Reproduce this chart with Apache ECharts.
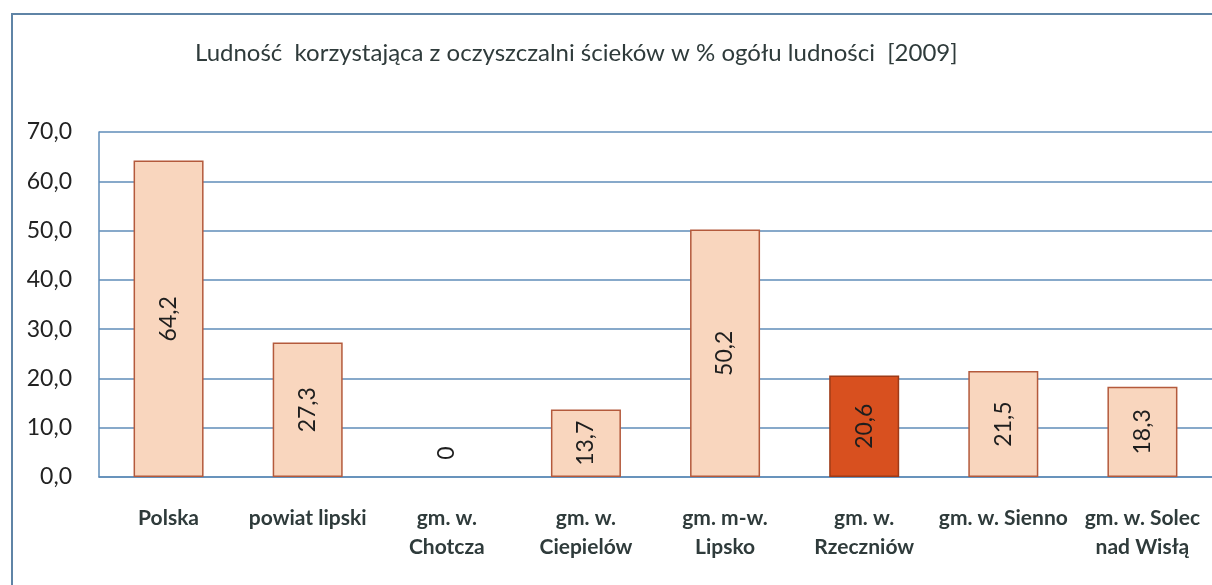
<!DOCTYPE html>
<html>
<head>
<meta charset="utf-8">
<script src="https://cdn.jsdelivr.net/npm/echarts@6/dist/echarts.min.js"></script>
<style>
  html, body { margin: 0; padding: 0; background: #fff; }
  #chart { width: 1212px; height: 585px; }
</style>
</head>
<body>
<div id="chart"></div>
<script>
const categories = [
  'Polska', 'powiat lipski', 'gm. w.\nChotcza', 'gm. w.\nCiepielów',
  'gm. m-w.\nLipsko', 'gm. w.\nRzeczniów', 'gm. w. Sienno', 'gm. w. Solec\nnad Wisłą'
];
const values = [64.2, 27.3, 0, 13.7, 50.2, 20.6, 21.5, 18.3];
const highlightIndex = 5;

const fmt = v => v.toFixed(1).replace('.', ',');
const font = 'Lato, "Open Sans", sans-serif';

const chart = echarts.init(document.getElementById('chart'));

// bars: one highlighted, zero value label lifted off the axis
const barData = values.map((v, i) => {
  const item = { value: v };
  if (i === highlightIndex) {
    item.itemStyle = { color: '#D8501F', borderColor: '#9E3A17' };
  }
  if (v === 0) {
    item.itemStyle = { borderWidth: 0 };
    item.label = { offset: [24, 0] };
  }
  return item;
});

chart.setOption({
  backgroundColor: '#fff',
  title: {
    text: 'Ludność  korzystająca z oczyszczalni ścieków w % ogółu ludności  [2009]',
    left: 190,
    top: 36,
    textStyle: { fontFamily: font, fontSize: 24, fontWeight: 'normal', color: '#2f3b3b' }
  },
  graphic: [{
    type: 'rect',
    shape: { x: 12, y: 14, width: 1300, height: 700 },
    style: { fill: 'none', stroke: '#5f84a6', lineWidth: 2 },
    silent: true
  }],
  grid: { left: 99, top: 132, width: 1124, height: 345 },
  xAxis: {
    type: 'category',
    data: categories,
    axisTick: { show: false },
    axisLine: { lineStyle: { color: '#5f8cb8', width: 1.5 } },
    axisLabel: {
      interval: 0,
      margin: 27,
      fontFamily: font,
      fontSize: 21,
      fontWeight: 'bold',
      color: '#2f3b3b',
      lineHeight: 29
    }
  },
  yAxis: {
    type: 'value',
    min: 0,
    max: 70,
    interval: 10,
    axisLine: { show: true, lineStyle: { color: '#5f8cb8', width: 1.5 } },
    axisTick: { show: false },
    splitLine: { lineStyle: { color: '#5f8cb8', width: 1.5 } },
    axisLabel: {
      margin: 27,
      fontFamily: font,
      fontSize: 23,
      color: '#222',
      formatter: v => fmt(v)
    }
  },
  series: [{
    type: 'bar',
    data: barData,
    barWidth: 70,
    itemStyle: { color: '#F9D6BE', borderColor: '#B45A3C', borderWidth: 1.5 },
    label: {
      show: true,
      position: 'inside',
      rotate: 90,
      fontFamily: font,
      fontSize: 23,
      color: '#1e1e1e',
      formatter: p => p.value === 0 ? '0' : fmt(p.value)
    },
    animation: false
  }],
  animation: false
});
</script>
</body>
</html>
